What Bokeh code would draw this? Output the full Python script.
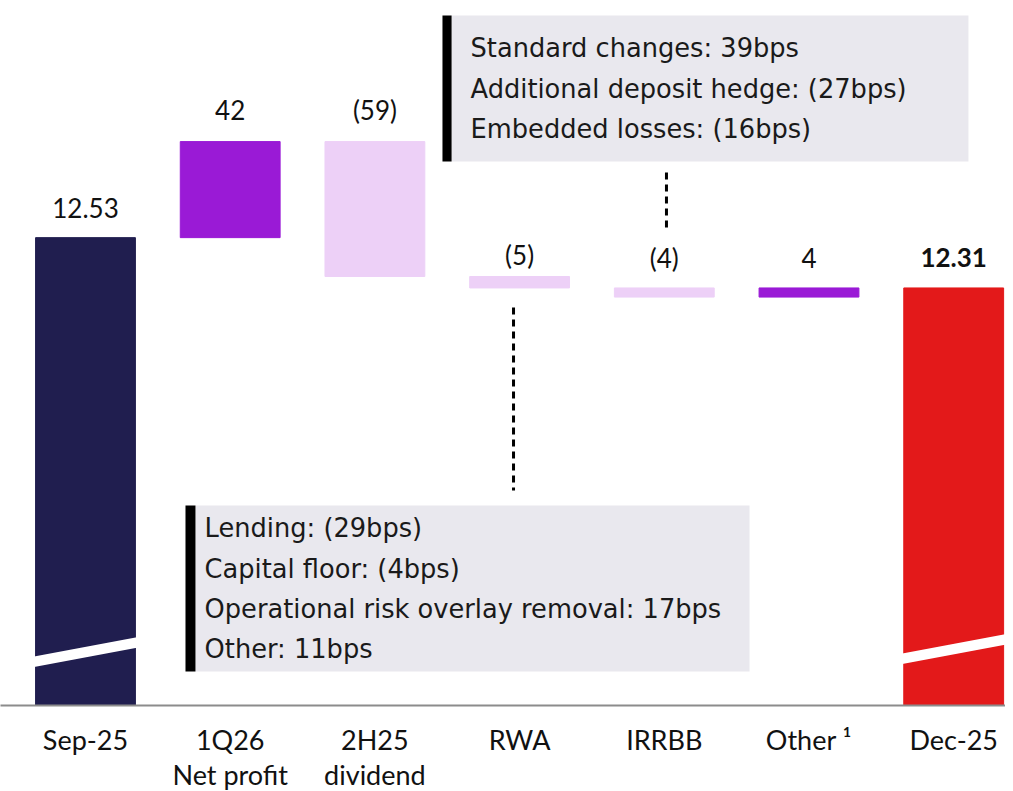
from bokeh.plotting import figure
from bokeh.models import Range1d, FixedTicker, ColumnDataSource
from bokeh.core.properties import value
from bokeh.embed import file_html
from bokeh.resources import INLINE

# ---------------- data ----------------
categories = ["Sep-25", "1Q26\nNet profit", "2H25\ndividend", "RWA", "IRRBB", "Other \u00b9", "Dec-25"]
start_value = 12.53          # CET1 ratio, %
deltas_bps = [42, -59, -5, -4, 4]
end_value = 12.31
value_labels = ["12.53", "42", "(59)", "(5)", "(4)", "4", "12.31"]

rwa_notes = ["Lending: (29bps)", "Capital floor: (4bps)",
             "Operational risk overlay removal: 17bps", "Other: 11bps"]
irrbb_notes = ["Standard changes: 39bps", "Additional deposit hedge: (27bps)",
               "Embedded losses: (16bps)"]

# ---------------- styling ----------------
NAVY = "#201E4F"
PURPLE = "#9A1AD6"
LILAC = "#EDD0F7"
RED = "#E3191A"
BOXGRAY = "#E9E8EE"
Y0 = 10.484
Y1 = 13.567

# ---------------- waterfall geometry ----------------
xs = list(range(len(categories)))
bottoms, tops, colors = [Y0], [start_value], [NAVY]
level = start_value
for d in deltas_bps:
    new = level + d / 100.0
    bottoms.append(level)
    tops.append(new)
    colors.append(PURPLE if d > 0 else LILAC)
    level = new
bottoms.append(Y0)
tops.append(end_value)
colors.append(RED)

upper = [max(b, t) for b, t in zip(bottoms, tops)]
label_offsets = [-30, -32, -32, -22, -30, -30, -30]

src = ColumnDataSource(dict(x=xs, bottom=bottoms, top=tops, color=colors))

p = figure(frame_width=1005, frame_height=705,
           x_range=Range1d(-0.5874, 6.358), y_range=Range1d(Y0, Y1),
           output_backend="svg", toolbar_location=None,
           y_axis_location=None,
           min_border_left=0, min_border_right=0, min_border_top=0,
           min_border_bottom=0)
p.grid.visible = False
p.outline_line_color = None
p.background_fill_color = "white"

p.vbar(x="x", bottom="bottom", top="top", width=0.69, color="color", source=src)

# axis-break stripes on the two full bars
BW = 0.69
for i, off in [(0, 0.214), (6, 0.227)]:
    l, r = i - BW / 2 - 0.01, i + BW / 2 + 0.01
    p.patch([l, r, r, l], [Y0 + off, Y0 + off + 0.085, Y0 + off + 0.039, Y0 + off - 0.046],
            color="white", line_width=0)

# value labels
for i in xs:
    p.text(x=[i], y=[upper[i]], text=[value_labels[i]],
           text_font=value("Lato"), text_font_size="26px",
           text_font_style="bold" if i == 6 else "normal",
           text_color="#111111", text_align="center",
           text_baseline="alphabetic", y_offset=label_offsets[i])

# annotation boxes
p.quad(left=[2.530], right=[6.102], bottom=[12.863], top=[13.501], color=BOXGRAY, line_width=0)
p.quad(left=[2.467], right=[2.530], bottom=[12.863], top=[13.501], color="black", line_width=0)
p.quad(left=[0.760], right=[4.589], bottom=[10.633], top=[11.359], color=BOXGRAY, line_width=0)
p.quad(left=[0.691], right=[0.760], bottom=[10.633], top=[11.359], color="black", line_width=0)

p.text(x=[2.661] * 3, y=[13.361, 13.182, 13.007], text=irrbb_notes,
       text_font=value("DejaVu Sans"), text_font_size="25.7px", text_color="#1a1a1a",
       text_baseline="middle", text_align="left")
p.text(x=[0.823] * 4, y=[11.262, 11.079, 10.904, 10.729], text=rwa_notes,
       text_font=value("DejaVu Sans"), text_font_size="25.7px", text_color="#1a1a1a",
       text_baseline="middle", text_align="left")

# dashed connectors
p.segment(x0=[4.015], y0=[12.815], x1=[4.015], y1=[12.552],
          line_color="black", line_width=3, line_dash="7 5")
p.segment(x0=[2.958], y0=[12.224], x1=[2.958], y1=[11.424],
          line_color="black", line_width=3, line_dash="7 5")

# x axis
ax = p.xaxis[0]
ax.ticker = FixedTicker(ticks=xs)
ax.major_label_overrides = {i: c for i, c in enumerate(categories)}
ax.axis_line_color = "#8c8c8c"
ax.axis_line_width = 2
ax.major_tick_line_color = None
ax.minor_tick_line_color = None
ax.major_tick_out = 0
ax.major_tick_in = 0
ax.major_label_standoff = 17
ax.major_label_text_font = "Lato"
ax.major_label_text_font_size = "27px"
ax.major_label_text_color = "#111111"
ax.major_label_text_line_height = 1.08

open("out.html", "w").write(file_html(p, INLINE))
